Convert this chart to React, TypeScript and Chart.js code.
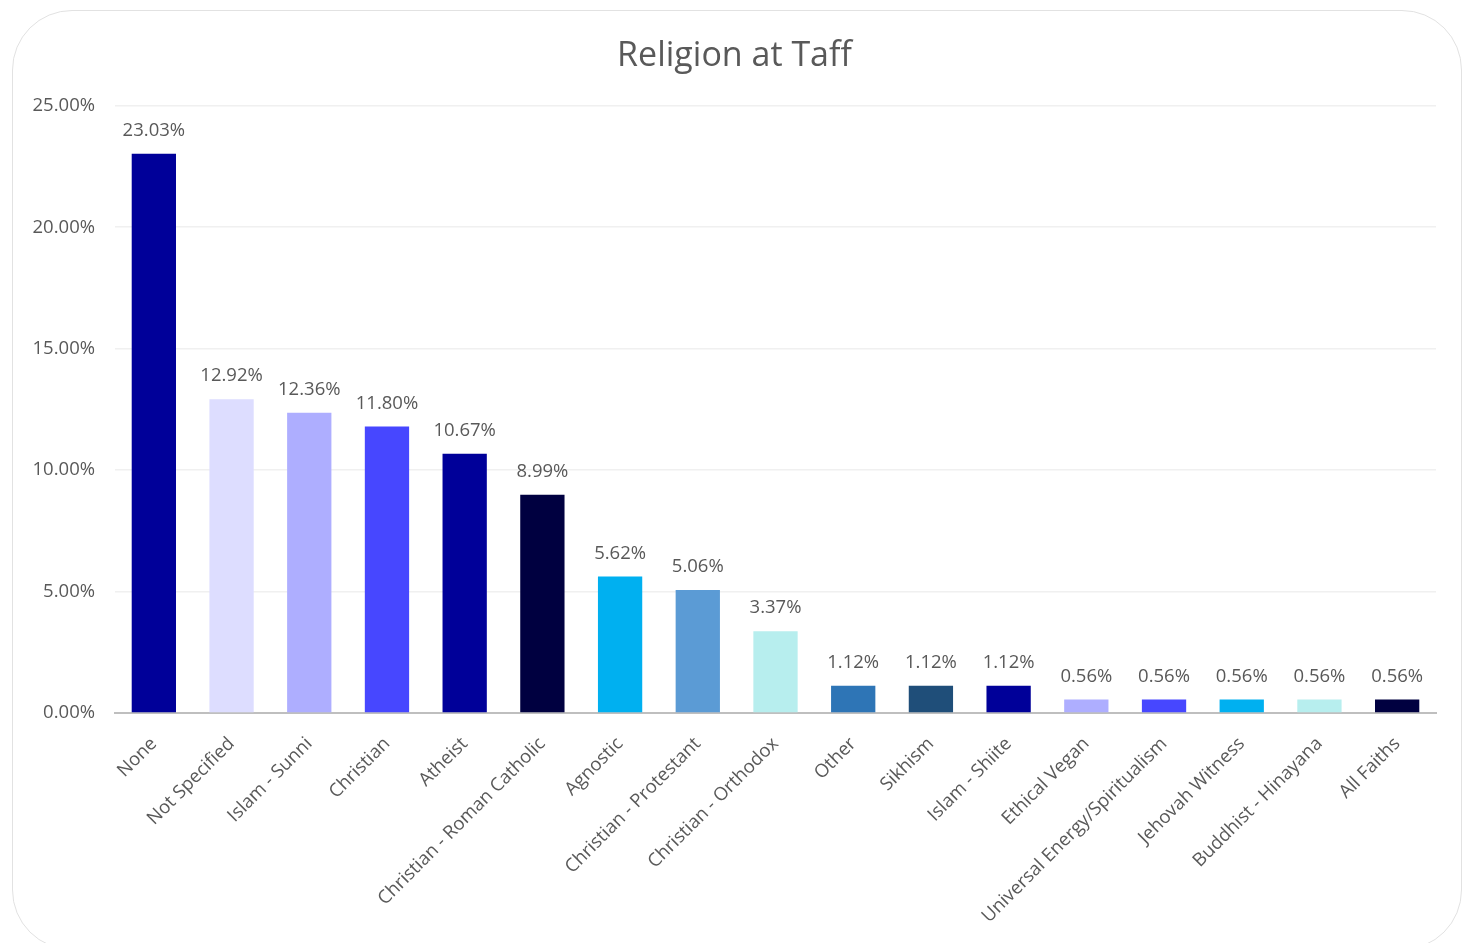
import React, { useEffect, useRef } from "react";
import { Chart, registerables } from "chart.js";

Chart.register(...registerables);

const categories = [
  "None",
  "Not Specified",
  "Islam - Sunni",
  "Christian",
  "Atheist",
  "Christian - Roman Catholic",
  "Agnostic",
  "Christian - Protestant",
  "Christian - Orthodox",
  "Other",
  "Sikhism",
  "Islam - Shiite",
  "Ethical Vegan",
  "Universal Energy/Spiritualism",
  "Jehovah Witness",
  "Buddhist - Hinayana",
  "All Faiths",
];

const values = [23.03, 12.92, 12.36, 11.8, 10.67, 8.99, 5.62, 5.06, 3.37, 1.12, 1.12, 1.12, 0.56, 0.56, 0.56, 0.56, 0.56];

const barColors = [
  "#000099",
  "#DDDDFF",
  "#AEAEFF",
  "#4747FF",
  "#000099",
  "#000040",
  "#00B0F0",
  "#5B9BD5",
  "#B7EEEE",
  "#2E75B6",
  "#1F4E79",
  "#000099",
  "#AEAEFF",
  "#4747FF",
  "#00B0F0",
  "#B7EEEE",
  "#000040",
];

const yTicks = [0, 5, 10, 15, 20, 25];

const FONT = "'Open Sans', sans-serif";

const dataLabelPlugin = {
  id: "dataLabels",
  afterDatasetsDraw(chart: any) {
    const ctx = chart.ctx;
    const meta = chart.getDatasetMeta(0);
    ctx.save();
    ctx.font = `18.5px ${FONT}`;
    ctx.fillStyle = "#595959";
    ctx.textAlign = "center";
    ctx.textBaseline = "middle";
    meta.data.forEach((bar: any, i: number) => {
      ctx.fillText(values[i].toFixed(2) + "%", bar.x, bar.y - 23);
    });
    ctx.restore();
  },
};

export default function App() {
  const ref = useRef<HTMLCanvasElement>(null);

  useEffect(() => {
    document.body.style.margin = "0";
    const chart = new Chart(ref.current as HTMLCanvasElement, {
      type: "bar",
      data: {
        labels: categories,
        datasets: [
          {
            data: values,
            backgroundColor: barColors,
            borderWidth: 0,
            barPercentage: 0.57,
            categoryPercentage: 1,
          },
        ],
      },
      options: {
        animation: false,
        responsive: false,
        maintainAspectRatio: false,
        layout: { padding: { left: 33, right: 33, top: 0, bottom: 0 } },
        plugins: {
          legend: { display: false },
          tooltip: { enabled: false },
          title: {
            display: true,
            text: "Religion at Taff",
            color: "#595959",
            font: { family: FONT, size: 34, weight: "normal" },
            padding: { top: 36, bottom: 29 },
          },
        },
        scales: {
          x: {
            grid: { display: false, drawTicks: false },
            border: { display: true, color: "#BFBFBF", width: 2 },
            ticks: {
              color: "#595959",
              font: { family: FONT, size: 18.5 },
              maxRotation: 45,
              minRotation: 45,
              autoSkip: false,
              padding: 20,
            },
            afterFit(scale: any) {
              scale.height = 230;
            },
          },
          y: {
            min: 0,
            max: 25,
            afterBuildTicks(scale: any) {
              scale.ticks = yTicks.map((v) => ({ value: v }));
            },
            grid: { color: "#F0F0F0", lineWidth: 1.5, drawTicks: false },
            border: { display: false },
            ticks: {
              color: "#595959",
              font: { family: FONT, size: 18.5 },
              padding: 20,
              callback: (v: any) => Number(v).toFixed(2) + "%",
            },
            afterFit(scale: any) {
              scale.width = 82;
            },
          },
        },
      },
      plugins: [dataLabelPlugin],
    });
    return () => chart.destroy();
  }, []);

  return (
    <div style={{ position: "relative", width: 1469, height: 943, background: "#fff", overflow: "hidden" }}>
      <div
        style={{
          position: "absolute",
          left: 12,
          top: 10,
          width: 1450,
          height: 940,
          border: "1.5px solid #E2E2E2",
          borderRadius: 60,
          boxSizing: "border-box",
        }}
      />
      <canvas ref={ref} width={1469} height={943} style={{ position: "absolute", left: 0, top: 0 }} />
    </div>
  );
}
